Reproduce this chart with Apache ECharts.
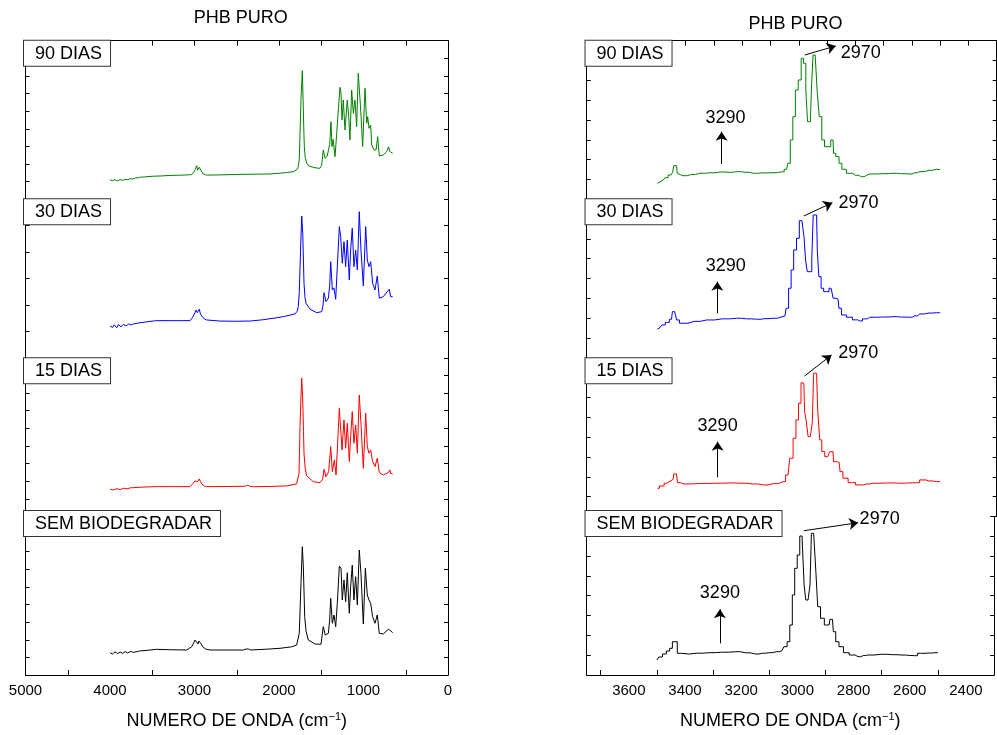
<!DOCTYPE html>
<html>
<head>
<meta charset="utf-8">
<title>PHB PURO</title>
<script src="https://cdn.jsdelivr.net/npm/echarts@6/dist/echarts.min.js"></script>
<style>
html,body{margin:0;padding:0;background:#fff;}
#chart{width:997px;height:735px;}
</style>
</head>
<body>
<div id="chart"></div>
<script>
// layer names, top to bottom
let layerNames = ['90 DIAS', '30 DIAS', '15 DIAS', 'SEM BIODEGRADAR'];
let layerColors = ['#008000', '#0000ff', '#ff0000', '#000000'];

// full spectra, 4000 - 650 cm-1 ([wavenumber, intensity a.u.])
let full90 = [[4000,19.3],[3970,18.6],[3940,19.6],[3910,18.4],[3880,19.8],[3850,18.9],[3820,20.0],[3790,19.6],[3760,20.6],[3730,20.2],[3700,21.3],[3684,22.8],[3670,21.4],[3640,22.2],[3600,22.3],[3500,23.0],[3400,23.3],[3300,23.8],[3200,24.0],[3100,24.3],[3040,24.6],[3010,26.5],[2990,30],[2975,33.6],[2962,29],[2955,28.3],[2945,32],[2935,33.6],[2920,28.5],[2900,25.5],[2860,24.2],[2700,24.4],[2500,24.8],[2300,25.1],[2107,25.3],[2000,26.0],[1900,26.8],[1831,27.6],[1790,29.5],[1772,32.6],[1760,40],[1751,66],[1740,100],[1724,128.6],[1715,100],[1705,65],[1700,52.6],[1690,42],[1672,36],[1640,33],[1594,32],[1550,31.2],[1515,31],[1495,34],[1476,49.3],[1456,41],[1430,43],[1416,42.6],[1400,55],[1385,77.6],[1373,52.6],[1360,60],[1337,42.6],[1317,66],[1298,89.3],[1278,112],[1266,106],[1254,79.3],[1239,99.3],[1219,69.3],[1192,99.3],[1175,82.6],[1160,59.3],[1140,109.3],[1120,86],[1101,99.3],[1081,72.6],[1062,126],[1050,127.6],[1033,89.3],[1010,52.6],[982,111],[962,76],[950,82.6],[935,71],[915,74.3],[903,54.3],[876,49.3],[852,49.3],[832,62.6],[813,43.3],[790,43.5],[766,44.3],[726,47.6],[703,52.6],[690,48],[679,47.6],[655,46]];
let full30 = [[4000,31.9],[3970,30.4],[3950,33.0],[3920,30.2],[3900,33.4],[3870,31.0],[3840,33.6],[3810,31.8],[3780,33.9],[3750,32.9],[3724,33.9],[3650,35],[3550,36.2],[3447,37.2],[3300,37.2],[3150,37.2],[3053,37.2],[3021,40.6],[2995,45],[2982,47.9],[2967,45.2],[2955,46],[2943,48.6],[2930,44],[2915,41.9],[2880,38.6],[2856,37.9],[2700,36.8],[2500,36.6],[2380,36.8],[2363,35.6],[2340,36.8],[2200,38],[2050,39.8],[1949,41.2],[1811,43.9],[1785,46.5],[1772,51.2],[1760,65],[1751,91.2],[1740,120],[1731,141.9],[1719,124.6],[1710,95],[1704,74.6],[1692,60],[1680,54.6],[1633,48.6],[1554,45.2],[1494,46.2],[1480,52],[1467,65.2],[1444,56.2],[1416,59.6],[1400,72],[1388,96.2],[1369,67.9],[1350,70],[1329,58.6],[1310,91.2],[1286,131.2],[1270,121.2],[1251,94.6],[1231,116.2],[1211,91.2],[1192,117.9],[1168,77.9],[1152,107.9],[1133,129.6],[1113,91.2],[1093,107.9],[1073,87.9],[1050,146.2],[1030,107.9],[1002,71.9],[974,131.2],[955,97.9],[935,91.2],[915,96.2],[892,74.6],[864,67.9],[837,81.9],[813,59.6],[790,59],[766,61.2],[719,66.2],[695,68.6],[679,61.2],[667,63],[655,61.2]];
let full15 = [[4000,27.2],[3960,26.4],[3920,27.8],[3880,26.8],[3840,28.2],[3800,27.6],[3760,28.6],[3724,28.8],[3600,29.4],[3447,29.8],[3250,29.8],[3053,29.8],[3014,33.2],[2995,35.5],[2982,37.2],[2962,34.8],[2943,37.5],[2930,35],[2915,32.5],[2880,30.2],[2856,29.8],[2600,29.9],[2400,30.2],[2370,31.2],[2340,30],[2308,29.7],[2100,30],[1910,30.5],[1791,32.5],[1763,43.2],[1751,89.8],[1740,120],[1731,138.2],[1719,116.5],[1710,85],[1704,63.2],[1690,48],[1672,40.5],[1594,34.8],[1515,33.8],[1483,37.2],[1467,47.2],[1444,39.8],[1412,44.8],[1388,69.8],[1369,44.8],[1345,56.5],[1325,41.5],[1306,73.2],[1286,108.2],[1270,106.5],[1254,66.5],[1231,96.5],[1211,68.2],[1192,93.2],[1168,54.8],[1152,79.8],[1133,104.8],[1113,73.2],[1093,91.5],[1073,63.2],[1050,121.5],[1030,93.2],[1002,48.2],[974,103.2],[955,69.8],[935,63.2],[915,66.5],[892,54.8],[864,49.8],[837,58.2],[813,43.8],[766,41.5],[707,43.8],[687,46.5],[679,43.2],[655,42.5]];
let full0 = [[4000,22.3],[3970,21.0],[3940,23.2],[3910,21.4],[3880,23.0],[3850,21.6],[3820,23.4],[3790,22.0],[3760,23.6],[3724,22.6],[3650,24],[3550,24.8],[3447,25.7],[3300,25.3],[3092,25],[3033,28.3],[3010,32],[2994,35],[2974,35.7],[2959,31],[2948,34],[2935,35.7],[2920,31],[2903,28.3],[2870,26],[2817,25],[2600,25],[2423,25],[2390,26],[2375,27.7],[2360,26],[2335,25],[2150,25.8],[1988,26.7],[1850,28.2],[1791,30],[1760,41.7],[1740,91.7],[1724,128.3],[1712,108.3],[1696,58.3],[1680,44],[1653,35],[1574,31],[1503,30.7],[1476,48.3],[1452,40],[1416,41.7],[1400,55],[1388,76.7],[1369,51.7],[1349,60],[1329,48.3],[1310,71.7],[1286,109],[1266,106.7],[1251,75],[1231,95],[1211,73.3],[1192,102.3],[1168,61.7],[1152,88.3],[1133,110],[1113,75],[1093,98.3],[1073,70],[1050,125],[1030,101.7],[1002,51],[978,106.7],[955,80],[935,75],[915,71.7],[892,58.3],[864,51.7],[837,60],[813,41.7],[766,41],[707,45.7],[687,47.7],[679,44.3],[655,42.3]];

// zoom 3500 - 2500 cm-1
let zoom90 = [[3500,16],[3490,17.5],[3479,19.3],[3468,21.5],[3456,24.3],[3448,26],[3444,27],[3440,33.6],[3432,33.6],[3428,26],[3418,24.5],[3409,23.6],[3380,24.8],[3350,26],[3315,26.5],[3279,27.3],[3250,27],[3220,27.6],[3190,27],[3161,26],[3130,26.4],[3091,26.6],[3060,27.5],[3043,30],[3034,36],[3026,59.3],[3016,82.6],[3008,109.3],[2996,119.3],[2987,141],[2979,136],[2971,109.3],[2967,77.6],[2959,77.6],[2952,109.3],[2947,144.3],[2937,144.3],[2932,106],[2923,82.6],[2914,59.3],[2904,52.6],[2890,52.6],[2884,59.3],[2879,59.3],[2875,46],[2863,42.6],[2852,36],[2843,30],[2820,26],[2800,24],[2778,22.6],[2760,24],[2749,25.3],[2700,25.6],[2667,26],[2640,25.6],[2608,25.3],[2590,26.5],[2572,27.6],[2540,29],[2513,30],[2500,29.6]];
let zoom30 = [[3500,28.6],[3490,30.5],[3479,32.9],[3465,35.5],[3450,38.6],[3444,46.2],[3434,46.2],[3430,37.9],[3414,34.6],[3370,36.5],[3326,37.9],[3270,39],[3220,39.6],[3185,39],[3149,38.6],[3120,39.2],[3091,39.6],[3060,41],[3049,41.9],[3040,49.6],[3032,69.6],[3022,87.9],[3014,107.9],[3002,119.6],[2994,137.2],[2984,136.2],[2979,121.2],[2973,97.9],[2967,86.2],[2957,86.2],[2951,97.9],[2947,142.9],[2937,142.9],[2932,107.9],[2926,81.2],[2916,69.6],[2908,66.2],[2896,66.2],[2890,69.6],[2881,69.6],[2876,59.6],[2861,58.6],[2855,49.6],[2843,42.9],[2820,40.6],[2800,38],[2784,36.9],[2765,39],[2749,40.6],[2700,40.9],[2667,41.2],[2640,40.8],[2608,40.6],[2590,42],[2572,43.9],[2540,44.8],[2513,45.2],[2500,45]];
let zoom15 = [[3500,28.2],[3485,30.5],[3467,33.2],[3455,35.2],[3444,37.2],[3440,42.5],[3432,42.5],[3426,33.8],[3409,32.5],[3350,33],[3290,33.2],[3250,33.5],[3208,33.2],[3165,32.5],[3126,31.5],[3090,32.8],[3055,34.8],[3038,41.5],[3026,58.2],[3014,78.2],[3006,96.5],[2996,113.2],[2988,133.8],[2982,133.2],[2977,104.8],[2971,96.5],[2963,79.8],[2955,79.8],[2949,94.8],[2946,143.2],[2937,143.2],[2929,106.5],[2923,76.5],[2914,64.8],[2902,59.8],[2893,59.8],[2888,64.8],[2879,64.8],[2875,54.8],[2857,53.8],[2851,44.8],[2837,38.2],[2814,33.8],[2784,31.5],[2760,32.5],[2737,33.2],[2690,33.5],[2643,33.2],[2610,33.5],[2584,33.8],[2561,36.5],[2540,35.5],[2513,34.8],[2500,34.8]];
let zoom0 = [[3500,15],[3487,18],[3473,21],[3460,24],[3450,26.7],[3440,33.3],[3432,33.3],[3423,21.7],[3409,21],[3360,21.8],[3314,22.3],[3270,22.8],[3220,23.3],[3185,22.2],[3149,21],[3125,21.8],[3102,22.3],[3075,23.3],[3055,24.3],[3041,28.3],[3032,33.3],[3022,50],[3014,80],[3005,106.7],[2996,120],[2987,139],[2979,135],[2973,90],[2967,75],[2957,75],[2953,90],[2947,141.7],[2937,141.7],[2932,105],[2923,68.3],[2912,56.7],[2896,50],[2887,50],[2881,55.7],[2875,55.7],[2869,43.3],[2858,33.3],[2846,28.3],[2826,22.3],[2805,20],[2784,18.3],[2765,19.5],[2749,20],[2702,20.7],[2660,20.3],[2631,20],[2600,19.5],[2584,19.3],[2561,21.7],[2530,22],[2510,22.3],[2500,22.3]];

// annotations on the zoomed panel, [wavenumber, intensity] in each layer's own scale
let arrow3290 = [[3273,35.3,67.6],[3288,44.6,76.2],[3287,39.2,74.8],[3279,31.7,65.7]];
let text3290 = [[3259,81],[3258,91.9],[3287,90.5],[3279,82.3]];
let arrow2970 = [[2979,144.3,2869,153.3],[2982,141.9,2881,155.2],[2979,140.5,2884,161.5],[2982,144.3,2790,152.3]];
let text2970 = [[2781,146.6],[2789,155.2],[2790,163.2],[2714,155.7]];

let fullSpectra = [full90, full30, full15, full0];
let zoomSpectra = [zoom90, zoom30, zoom15, zoom0];

let font = "'Liberation Sans', Arial, Helvetica, sans-serif";
let frameTop = 40.7, frameBottom = 675;
let layerH = (frameBottom - frameTop) / 4;
let yMax = 158.6;
let boxTops = [40.7, 199.3, 358.3, 511];

let panels = [
    {left: 25.5, width: 422.5, min: 0, max: 5000, topTick: 500, yTicks: [9, 6, 9, 9], boxLeft: 24, data: fullSpectra, step: false},
    {left: 586.7, width: 410, min: 2300, max: 3750, topTick: 100, yTicks: [8, 8, 8, 8], boxLeft: 585.5, data: zoomSpectra, step: 'middle'}
];

let black = {color: '#000', width: 1};
let option = {
    animation: false,
    backgroundColor: '#fff',
    grid: [], xAxis: [], yAxis: [], series: [], graphic: []
};

panels.forEach(function (pn, p) {
    for (let l = 0; l < 4; l++) {
        let g = option.grid.length;
        option.grid.push({left: pn.left, width: pn.width, top: frameTop + l * layerH, height: layerH});

        let xi = option.xAxis.length;
        let xa = {
            type: 'value', gridIndex: g, min: pn.min, max: pn.max, inverse: true,
            splitLine: {show: false}, axisLine: {show: true, onZero: false, lineStyle: black},
            axisTick: {show: false}, axisLabel: {show: false}
        };
        if (l === 0) {
            xa.position = 'top';
            xa.interval = pn.topTick;
            xa.axisTick = {show: true, inside: true, length: 5, lineStyle: black};
        } else if (l === 3) {
            xa.position = 'bottom';
            xa.name = 'NUMERO DE ONDA (cm{s|\u22121})';
            xa.nameLocation = 'middle';
            xa.nameGap = 36;
            xa.nameTextStyle = {color: '#000', fontFamily: font, fontSize: 18,
                rich: {s: {fontSize: 11, fontFamily: font, color: '#000', padding: [0, 0, 9, 0]}}};
            xa.axisLabel = {show: true, color: '#000', fontFamily: font, fontSize: 15, margin: 8};
            if (p === 0) {
                xa.interval = 1000;
                xa.axisLabel.formatter = function (v) { return String(Math.round(v)); };
                xa.axisTick = {show: false, inside: true};
                xa.minorTick = {show: true, splitNumber: 2, length: 5, lineStyle: black};
            } else {
                xa.interval = 100;
                xa.axisLabel.formatter = function (v) {
                    return Math.round(v) % 200 === 0 ? String(Math.round(v)) : '';
                };
            }
        } else {
            xa.show = false;
        }
        option.xAxis.push(xa);
        if (l === 3 && p === 1) {
            // ticks only between the labels
            option.xAxis.push({
                type: 'value', gridIndex: g, min: pn.min, max: pn.max, inverse: true, position: 'bottom',
                interval: 200, splitLine: {show: false}, axisLine: {show: false, onZero: false},
                axisLabel: {show: false}, axisTick: {show: true, inside: true, length: 5, lineStyle: black}
            });
        }

        let yi = option.yAxis.length;
        ['left', 'right'].forEach(function (side) {
            option.yAxis.push({
                type: 'value', gridIndex: g, position: side, min: 0, max: yMax,
                interval: yMax / pn.yTicks[l],
                splitLine: {show: false}, axisLabel: {show: false},
                axisLine: {show: true, onZero: false, lineStyle: black},
                axisTick: {show: true, inside: true, length: 4, lineStyle: black}
            });
        });

        option.series.push({
            type: 'line', xAxisIndex: xi, yAxisIndex: yi, data: pn.data[l],
            symbol: 'none', step: pn.step, clip: false, silent: true,
            lineStyle: {width: 1, color: layerColors[l]}, itemStyle: {color: layerColors[l]}
        });

        option.graphic.push({
            type: 'text', x: pn.boxLeft, y: boxTops[l], z: 100,
            style: {
                text: layerNames[l], font: '18px ' + font, fill: '#000',
                textAlign: 'left', textVerticalAlign: 'top',
                backgroundColor: '#fff', borderColor: '#333', borderWidth: 1,
                padding: [4, 8, 3, 11]
            }
        });
    }
});

// overlay grid over the whole zoomed panel for the arrows and peak labels;
// its y scale stacks the four layers (layer l starts at (3 - l) * yMax)
let ag = option.grid.length;
option.grid.push({left: panels[1].left, width: panels[1].width, top: frameTop, height: frameBottom - frameTop});
let axi = option.xAxis.length;
option.xAxis.push({type: 'value', gridIndex: ag, min: panels[1].min, max: panels[1].max, inverse: true, show: false});
let ayi = option.yAxis.length;
option.yAxis.push({type: 'value', gridIndex: ag, min: 0, max: 4 * yMax, show: false});

let lines = [], labels = [];
for (let l = 0; l < 4; l++) {
    let off = (3 - l) * yMax;
    let a = arrow3290[l], b = arrow2970[l];
    lines.push([{coord: [a[0], a[1] + off]}, {coord: [a[0], a[2] + off]}]);
    lines.push([{coord: [b[0], b[1] + off]}, {coord: [b[2], b[3] + off]}]);
    labels.push({name: '3290', coord: [text3290[l][0], text3290[l][1] + off]});
    labels.push({name: '2970', coord: [text2970[l][0], text2970[l][1] + off]});
}
option.series.push({
    type: 'line', xAxisIndex: axi, yAxisIndex: ayi, data: [], silent: true, symbol: 'none',
    markLine: {
        silent: true, symbol: ['none', 'arrow'], symbolSize: 9, animation: false,
        label: {show: false}, lineStyle: {color: '#000', width: 1, type: 'solid'},
        emphasis: {disabled: true}, data: lines
    },
    markPoint: {
        silent: true, symbol: 'circle', symbolSize: 1, animation: false,
        itemStyle: {color: 'rgba(0,0,0,0)'},
        label: {show: true, position: 'inside', formatter: '{b}', color: '#000', fontFamily: font, fontSize: 18},
        data: labels
    }
});

option.graphic.push(
    {type: 'text', x: 240.8, y: 18.3, style: {text: 'PHB PURO', font: '18px ' + font, fill: '#000', textAlign: 'center', textVerticalAlign: 'middle'}},
    {type: 'text', x: 795.5, y: 24.2, style: {text: 'PHB PURO', font: '18px ' + font, fill: '#000', textAlign: 'center', textVerticalAlign: 'middle'}}
);

let myChart = echarts.init(document.getElementById('chart'));
myChart.setOption(option);
</script>
</body>
</html>
